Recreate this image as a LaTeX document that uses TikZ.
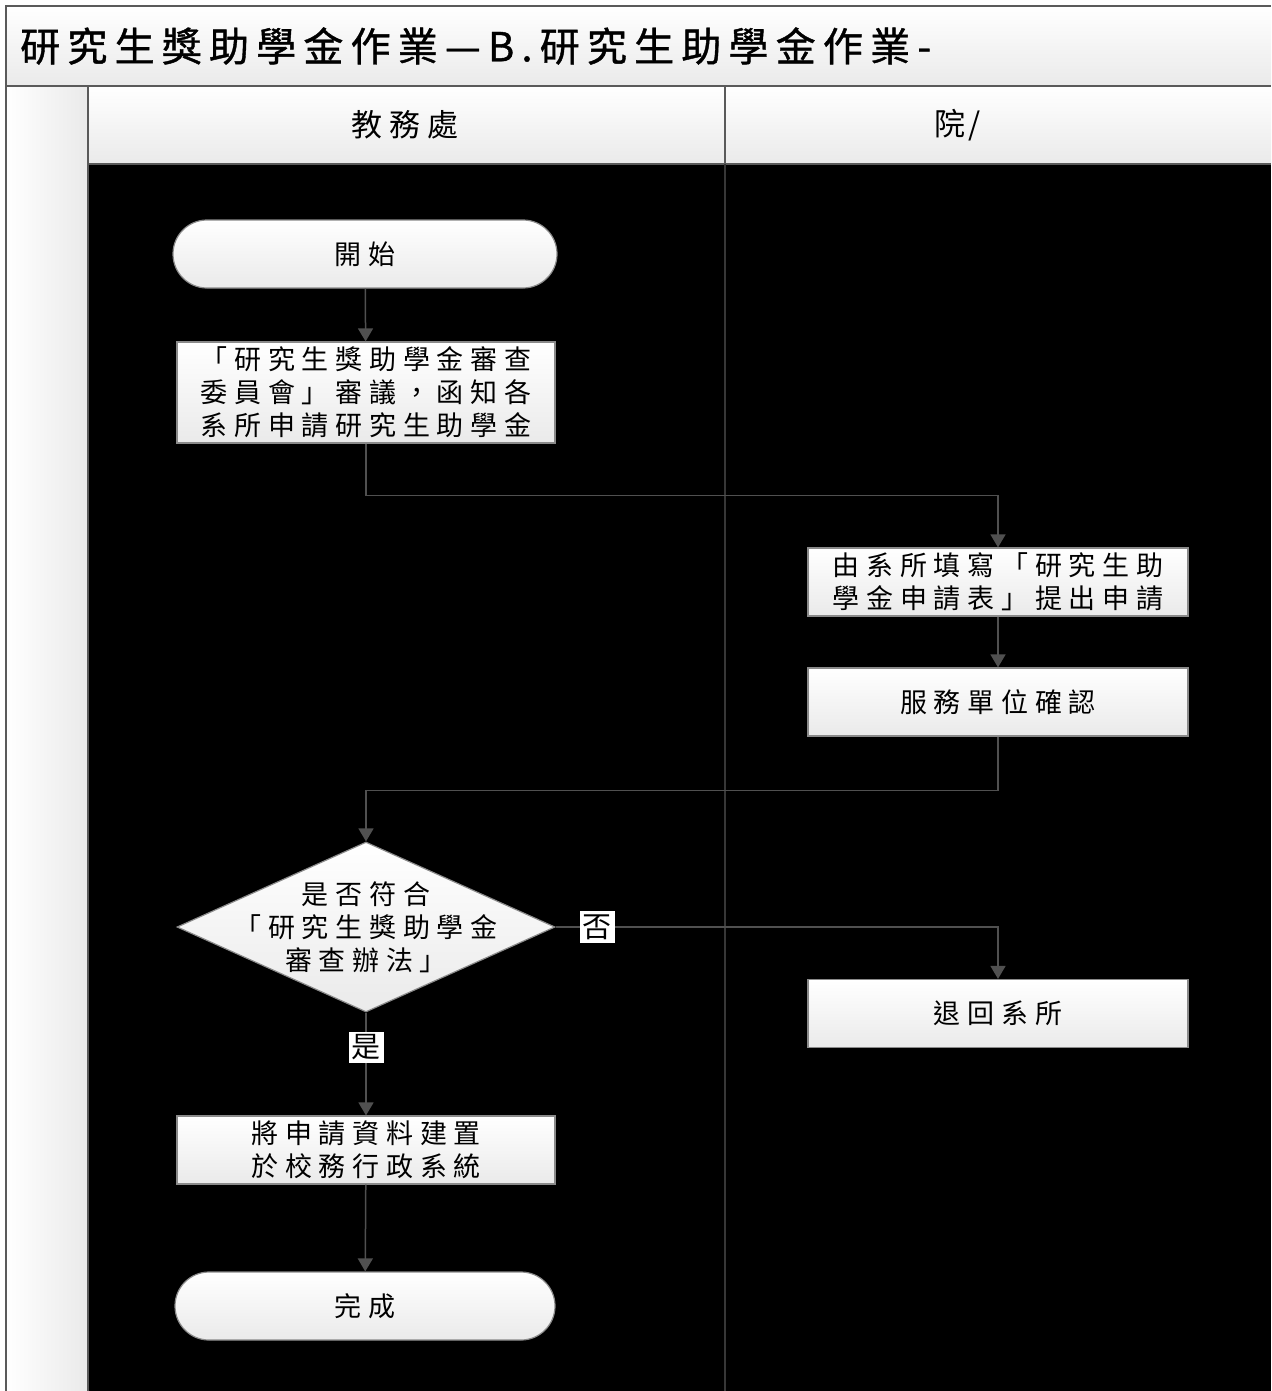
\documentclass[tikz,border=0pt]{standalone}
\usepackage{fontspec}
\newfontfamily\cjk{Noto Sans CJK TC}
\usetikzlibrary{arrows.meta,shapes.geometric,shapes.misc}
\definecolor{ln}{HTML}{505050}
\definecolor{frm}{HTML}{5A5A5A}
\definecolor{nb}{HTML}{8A8A8A}
\definecolor{gbot}{HTML}{EAEAEA}
\definecolor{lanediv}{HTML}{373737}
\tikzset{
  boxtxt/.style={font=\cjk\fontsize{27}{33}\selectfont\addfontfeature{LetterSpace=25}},
  nodefill/.style={draw=nb, line width=1.2pt, top color=white, bottom color=gbot, shading angle=0},
  proc/.style={rectangle, nodefill, boxtxt, minimum width=380pt, minimum height=68pt, inner sep=0pt, align=center},
  term/.style={rounded rectangle, nodefill, boxtxt, minimum width=384pt, minimum height=68pt, inner sep=0pt},
  decision/.style={diamond, nodefill, minimum width=378pt, minimum height=170pt, inner sep=0pt},
  conn/.style={draw=ln, line width=1.5pt, -{Triangle[width=15pt,length=13pt]}},
  lbl/.style={fill=white, inner sep=3pt, font=\cjk\fontsize{29}{31}\selectfont},
}
\begin{document}
\begin{tikzpicture}[x=1pt,y=-1pt]
\useasboundingbox (0,0) rectangle (1271,1391);
% title band
\shade[top color=white, bottom color=gbot] (6,6) rectangle (1271,86);
% left strip
\shade[left color=white, right color=gbot] (6,86) rectangle (88,1391);
% lane headers
\shade[top color=white, bottom color=gbot] (88,86) rectangle (725,164);
\shade[top color=white, bottom color=gbot] (725,86) rectangle (1271,164);
% body
\fill[black] (88,164) rectangle (1271,1391);
% frame lines
\draw[frm, line width=2pt] (6,1391) -- (6,6) -- (1271,6);
\draw[frm, line width=1.5pt] (6,86) -- (1271,86);
\draw[frm, line width=1.5pt] (88,86) -- (88,1391);
\draw[frm, line width=1.5pt] (88,164) -- (1271,164);
\draw[frm, line width=1.5pt] (725,86) -- (725,164);
\draw[lanediv, line width=1.5pt] (725,164) -- (725,1391);
% texts of frame
\node[anchor=west, inner sep=0pt, font=\cjk\fontsize{40}{42}\selectfont\addfontfeature{LetterSpace=18,FakeBold=1}] (title) at (20,46) {研究生獎助學金作業—B.研究生助學金作業-};
\node[font=\cjk\fontsize{31}{33}\selectfont\addfontfeature{LetterSpace=22}] (lane1) at (405,125) {教務處};
\node[font=\cjk\fontsize{31}{33}\selectfont\addfontfeature{LetterSpace=10}] (lane2) at (958,125) {院/};
% nodes
\node[term] (start) at (365,254) {開始};
\node[proc, minimum width=378pt, minimum height=101pt] (b1) at (366,392.5) {「研究生獎助學金審查\\委員會」審議，函知各\\系所申請研究生助學金};
\node[proc] (b2) at (998,582) {由系所填寫「研究生助\\學金申請表」提出申請};
\node[proc] (b3) at (998,702) {服務單位確認};
\node[decision] (d) at (366,927) {};
\node[boxtxt, align=center] (dt) at (366,927) {是否符合\\「研究生獎助學金\\審查辦法」};
\node[proc] (r) at (998,1013.5) {退回系所};
\node[proc, minimum width=378pt] (b4) at (366,1150) {將申請資料建置\\於校務行政系統};
\node[term, minimum width=380pt] (end) at (365,1306) {完成};
% connectors
\draw[conn] (start) -- (b1);
\draw[conn] (b1.south) -- ++(0,52) -| (b2.north);
\draw[conn] (b2) -- (b3);
\draw[conn] (b3.south) -- ++(0,54) -| (d.north);
\draw[conn] (d.east) -| node[lbl, pos=0.047] {否} (r.north);
\draw[conn] (d.south) -- node[lbl, pos=0.34] {是} (b4.north);
\draw[conn] (b4) -- (end);
\end{tikzpicture}
\end{document}
